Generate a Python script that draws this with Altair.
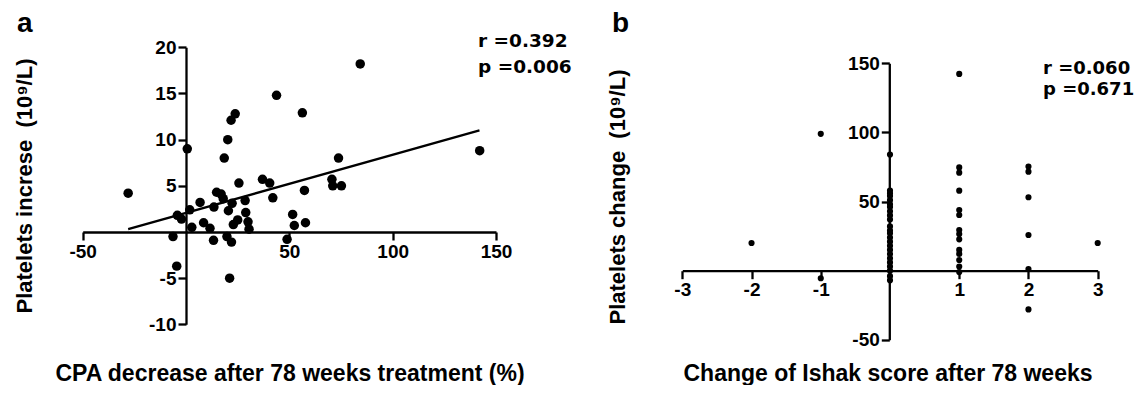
import altair as alt
import pandas as pd

FONT = "Liberation Sans"
STAT_FONT = "DejaVu Sans"

# ---------------- Panel a data ----------------
a_x = [-28.0, 0.6, -6.3, -4.5, -4.2, -2.2, 1.8, 2.8, 6.8, 8.5, 11.6, 13.5, 13.3, 14.8, 17.0,
       18.5, 20.2, 18.0, 20.5, 19.8, 22.0, 21.1, 21.8, 23.8, 22.3, 22.9, 25.0, 25.6, 28.6,
       28.9, 30.0, 30.5, 37.0, 40.5, 42.0, 43.8, 48.9, 51.6, 52.4, 56.3, 57.3, 57.8, 70.6,
       71.0, 73.8, 75.2, 84.3, 142.1]
a_y = [4.2, 9.0, -0.5, -3.7, 1.8, 1.4, 2.4, 0.5, 3.2, 1.0, 0.4, 2.7, -0.9, 4.3, 4.1,
       8.0, 10.0, 3.6, 2.3, -0.5, -1.1, -5.0, 12.1, 12.8, 3.1, 0.8, 1.3, 5.3, 3.4,
       2.1, 1.1, 0.3, 5.7, 5.3, 3.7, 14.8, -0.8, 1.9, 0.7, 12.9, 4.5, 1.0, 5.7,
       5.0, 8.0, 5.0, 18.2, 8.8]
a_fit_x = [-28.0, 142.0]
a_fit_y = [0.3, 11.0]
a_stats = ["r =0.392", "p =0.006"]
a_xticks = [-50, 50, 100, 150]
a_yticks = [-10, -5, 5, 10, 15, 20]
a_xtitle = "CPA decrease after 78 weeks treatment (%)"
a_ytitle = "Platelets increse\u00a0 (10\u2079/L)"

# ---------------- Panel b data ----------------
b_x = ([-2, -1, -1, 3] + [2] * 6 + [1] * 14 + [0] * 24)
b_y = ([20, 99, -5.5, 20]
       + [75.3, 71.6, 53.1, 25.8, 1.2, -28.0]
       + [142.3, 74.7, 70.9, 57.9, 43.9, 40.3, 29.4, 26.5, 22.7, 15.0, 12.1, 7.7, 3.0, -1.0]
       + [84, 58, 56, 54, 51, 48, 46, 43, 40, 37, 32, 29, 27, 24, 21, 18, 15, 12, 9, 6, 3,
          0, -4, -7])
b_stats = ["r =0.060", "p =0.671"]
b_xticks = [-3, -2, -1, 1, 2, 3]
b_yticks = [-50, 50, 100, 150]
b_xtitle = "Change of Ishak score after 78 weeks"
b_ytitle = "Platelets change\u00a0 (10\u2079/L)"

W, H = 1129, 377  # whole drawing frame (page minus 8px margins)


def mk_axis(orient, offset, values):
    return alt.Axis(
        orient=orient, offset=offset, values=values, title=None,
        labelFont=FONT, labelFontSize=19, labelFontWeight="bold", labelColor="black",
        labelPadding=2, labelFlush=False, labelOverlap=False,
        labelExpr="datum.value + ''",
        domainColor="black", domainWidth=2.3, tickColor="black", tickWidth=2.3,
        tickSize=8, grid=False,
    )


ONE = alt.InlineData(values=[{"k": 0}])


def txt(text, x, y, size, angle=0, align="left", baseline="alphabetic", font=FONT, lh=None):
    kw = dict(font=font, fontSize=size, fontWeight="bold", color="black",
              align=align, baseline=baseline, angle=angle)
    if lh is not None:
        kw["lineHeight"] = lh
    return alt.Chart(ONE).mark_text(**kw).encode(
        x=alt.value(x), y=alt.value(y), text=alt.value(text))


def panel(df, fit_df, xdom, xr, ydom, yr, xax, yax, size, extra):
    xs = alt.Scale(domain=xdom, range=xr, nice=False, zero=False)
    ys = alt.Scale(domain=ydom, range=yr, nice=False, zero=False)
    X = alt.X("x:Q", scale=xs, axis=xax)
    Y = alt.Y("y:Q", scale=ys, axis=yax)
    layers = [alt.Chart(df).mark_circle(size=size, color="black", opacity=1).encode(x=X, y=Y)]
    if fit_df is not None:
        layers.append(alt.Chart(fit_df).mark_line(color="black", strokeWidth=2.3).encode(x=X, y=Y))
    layers += extra
    return alt.layer(*layers)


df_a = pd.DataFrame({"x": a_x, "y": a_y})
fit_a = pd.DataFrame({"x": a_fit_x, "y": a_fit_y})
df_b = pd.DataFrame({"x": b_x, "y": b_y})

panel_a = panel(
    df_a, fit_a, [-50, 150], [74.7, 488.0], [-10, 20], [316.3, 39.3],
    mk_axis("bottom", 224 - H, a_xticks),
    mk_axis("left", -178, a_yticks),
    90,
    [
        txt(a_stats, 470, 39.3, 18.5, font=STAT_FONT, lh=25.4),
        txt("a", 9, 24, 28),
        txt(a_xtitle, 282, 373, 23, align="center"),
        txt(a_ytitle, 17, 178, 22, angle=270, align="center", baseline="middle"),
    ],
)

panel_b = panel(
    df_b, None, [-3, 3], [674.3, 1089.7], [-50, 150], [331.8, 55.3],
    mk_axis("bottom", 262.7 - H, b_xticks),
    mk_axis("left", -881.3, b_yticks),
    38,
    [
        txt(b_stats, 1035, 66, 18, font=STAT_FONT, lh=21),
        txt("b", 604, 24, 28),
        txt(b_xtitle, 880, 373, 23, align="center"),
        txt(b_ytitle, 610, 189, 22, angle=270, align="center", baseline="middle"),
    ],
)

chart = (
    alt.layer(panel_a, panel_b)
    .resolve_scale(x="independent", y="independent")
    .resolve_axis(x="independent", y="independent")
    .properties(width=W, height=H, autosize=alt.AutoSizeParams(type="none"), padding=0,
                background="white")
    .configure_view(stroke=None)
)

chart.save("out.html", embed_options={"renderer": "svg", "actions": False})
